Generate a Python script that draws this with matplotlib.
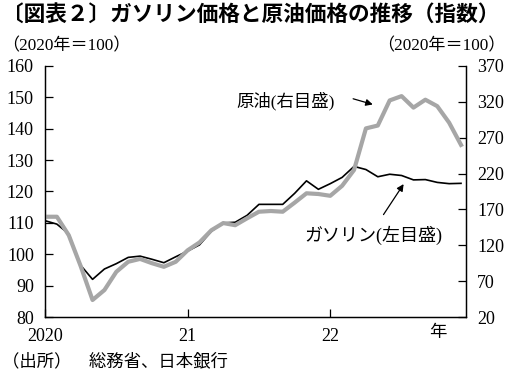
import matplotlib
matplotlib.use("Agg")
import matplotlib.pyplot as plt
import numpy as np

plt.rcParams['font.family'] = ['Liberation Serif', 'Noto Sans CJK JP']

# Data (monthly, Jan 2020 - Dec 2022), 2020 = 100
gasoline = [110.7, 109.6, 106.5, 96.5, 92.0, 95.3, 97.0, 99.0, 99.4, 98.4, 97.3, 99.2,
            101.0, 103.0, 107.3, 110.0, 110.2, 112.4, 115.9, 115.9, 115.9, 119.4, 123.4, 120.7,
            122.5, 124.5, 128.0, 127.0, 124.7, 125.5, 125.1, 123.7, 123.8, 122.9, 122.5, 122.6]
crude_oil = [159.8, 159.8, 134.0, 91.0, 43.7, 57.6, 83.0, 97.0, 101.0, 95.0, 90.0, 97.0,
             113.0, 124.0, 141.0, 151.0, 148.0, 157.6, 166.8, 167.8, 166.8, 179.4, 192.5, 191.5,
             189.0, 203.0, 225.0, 283.0, 287.0, 322.0, 328.0, 312.0, 323.0, 314.0, 291.0, 260.0]
year_ticks = [0, 12, 24]
year_labels = ["2020", "21", "22"]
left_ticks = [80, 90, 100, 110, 120, 130, 140, 150, 160]
right_ticks = [20, 70, 120, 170, 220, 270, 320, 370]

months = np.arange(len(gasoline))

fig = plt.figure(figsize=(5.10, 3.75), dpi=100)
ax = fig.add_axes([45/510, 1-317/375, (466-45)/510, (317-66)/375])
ax2 = ax.twinx()

ax.plot(months, gasoline, color='black', lw=1.2, zorder=3)
ax2.plot(months, crude_oil, color='#a6a6a6', lw=3.0, zorder=2)

ax.set_xlim(0, 35.42)
ax.set_ylim(80, 160)
ax2.set_ylim(20, 370)

for a in (ax, ax2):
    a.spines['top'].set_visible(False)
    for s in ('left', 'right', 'bottom'):
        a.spines[s].set_linewidth(0.9)

ax.set_yticks(left_ticks)
ax2.set_yticks(right_ticks)
ax.set_xticks(year_ticks)
ax.set_xticklabels(year_labels)

ax.tick_params(axis='y', direction='in', length=5.5, width=0.9, pad=8, labelsize=13)
ax2.tick_params(axis='y', direction='in', length=5.5, width=0.9, pad=8, labelsize=13)
ax.tick_params(axis='x', direction='in', length=5.5, width=0.9, pad=8, labelsize=13)

ax.text(0.933, -0.064, "年", transform=ax.transAxes, ha='center', va='center', fontsize=12.5)

# Annotations
ax.annotate("", xy=(27.8, 147.5), xytext=(25.7, 149.8),
            arrowprops=dict(arrowstyle='-|>', color='black', lw=0.9, mutation_scale=10))
ax.text(20.2, 148.8, "原油(右目盛)", ha='center', va='center', fontsize=12.5)
ax.annotate("", xy=(30.3, 123.1), xytext=(28.35, 111.9),
            arrowprops=dict(arrowstyle='-|>', color='black', lw=0.9, mutation_scale=10))
ax.text(27.65, 106.1, "ガソリン(左目盛)", ha='center', va='center', fontsize=13)

# Titles and notes
fig.text(2/510, 1-15/375, "〔図表２〕ガソリン価格と原油価格の推移（指数）", ha='left', va='center',
         fontsize=15.6, fontweight='bold', family=['Noto Sans CJK JP'])
fig.text(2/510, 1-46/375, "（2020年＝100）", ha='left', va='center', fontsize=12.3)
fig.text(506/510, 1-46/375, "（2020年＝100）", ha='right', va='center', fontsize=12.3)
fig.text(2/510, 1-362/375, "（出所）　総務省、日本銀行", ha='left', va='center', fontsize=12.5)

fig.savefig("out.png", dpi=100)
